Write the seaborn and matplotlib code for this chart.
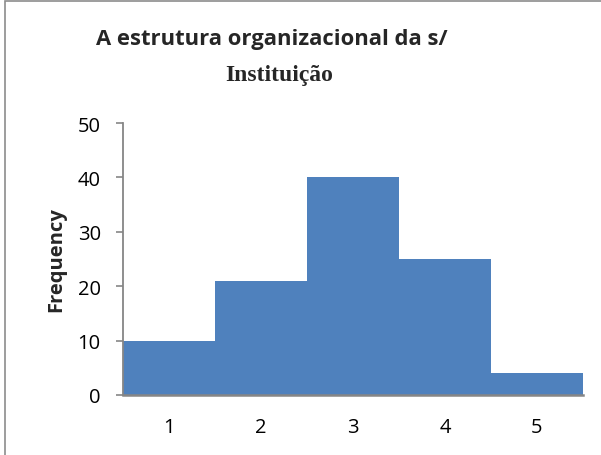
import matplotlib
matplotlib.use("Agg")
import matplotlib.pyplot as plt
from matplotlib.patches import Rectangle
import seaborn as sns
import pandas as pd

# Frequency of each rating for the organizational structure question
categories = ["1", "2", "3", "4", "5"]
frequencies = [10, 21, 40, 25, 4]
y_ticks = [0, 10, 20, 30, 40, 50]

title_line1 = "A estrutura organizacional da s/"
title_line2 = "Instituição"
y_label = "Frequency"

sns.set_theme(style="white")
plt.rcParams["font.family"] = ["Open Sans", "DejaVu Sans"]

df = pd.DataFrame({"rating": categories, "freq": frequencies})

W, H = 601, 456
fig = plt.figure(figsize=(W / 100, H / 100), dpi=100)
ax = fig.add_axes([123 / W, 1 - 396 / H, (583 - 123) / W, (396 - 124) / H])

sns.barplot(data=df, x="rating", y="freq", color="#4F81BD", saturation=1,
            width=1.0, edgecolor="none", linewidth=0, ax=ax)

ax.set_xlim(-0.5, 4.5)
ax.set_ylim(0, 50)
ax.set_yticks(y_ticks)
ax.set_yticklabels([str(t) for t in y_ticks])
ax.set_xlabel("")
ax.set_ylabel(y_label, fontsize=14.5, fontweight="bold", labelpad=8)

for side in ("top", "right"):
    ax.spines[side].set_visible(False)
for side in ("left", "bottom"):
    ax.spines[side].set_color("#868686")
    ax.spines[side].set_linewidth(1.3)
ax.spines["bottom"].set_linewidth(1.8)

ax.tick_params(axis="y", which="both", left=True, length=5, width=1.2,
               color="#868686", pad=11, labelsize=14.5, labelcolor="black")
ax.tick_params(axis="x", which="both", bottom=False, length=0, pad=15.5,
               labelsize=14.5, labelcolor="black")

# Two-line chart title
fig.text(272 / W, 1 - 39 / H, title_line1, ha="center", va="center",
         fontsize=15.8, fontweight="bold", family=["Open Sans", "DejaVu Sans"])
fig.text(279 / W, 1 - 76 / H, title_line2, ha="center", va="center",
         fontsize=17, fontweight="bold", family=["Liberation Serif", "DejaVu Serif"])

# Chart-area frame
fig.patches.append(Rectangle((5 / W, -0.5), 2.0, 1.5 - 2 / H, transform=fig.transFigure,
                             fill=False, edgecolor="#8c8c8c", linewidth=1.2))

fig.savefig("out.png", dpi=100)
